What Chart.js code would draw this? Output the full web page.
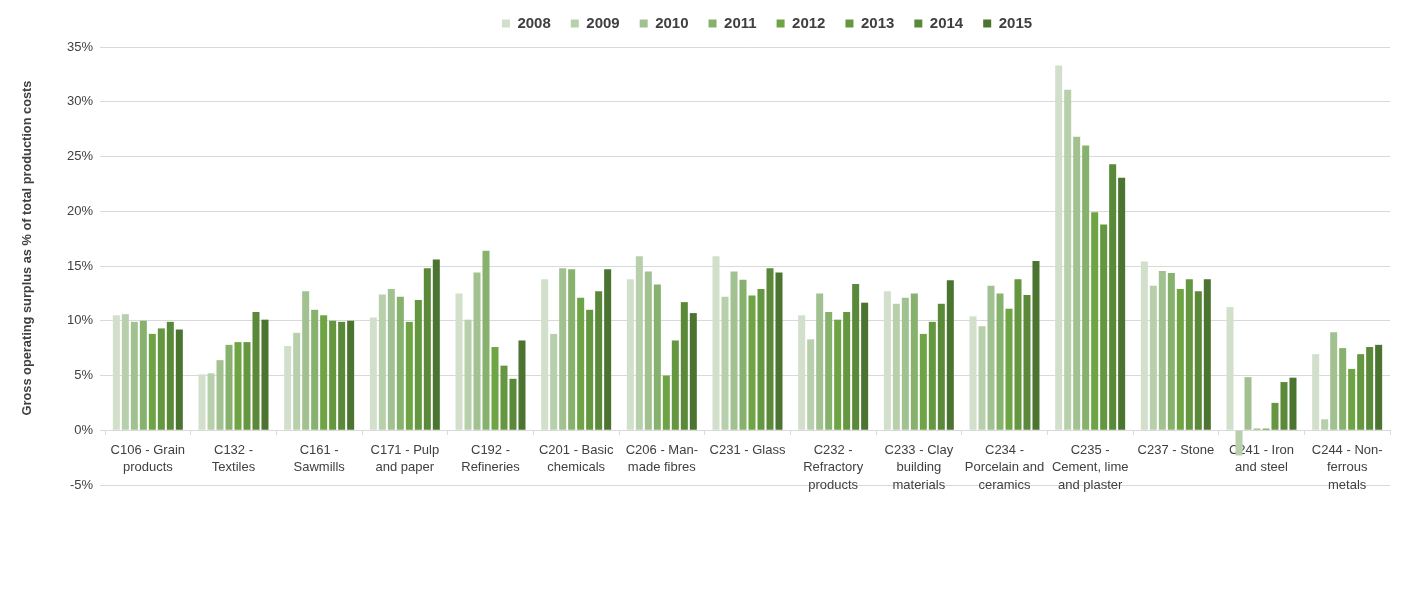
<!DOCTYPE html>
<html><head><meta charset="utf-8">
<script src="https://cdn.jsdelivr.net/npm/chart.js@4.4.1/dist/chart.umd.min.js"></script>
<style>html,body{margin:0;padding:0;background:#fff}#wrap{width:1405px;height:616px;position:relative}canvas{display:block}</style>
</head><body><div id="wrap"><canvas id="c" width="1405" height="616" style="width:1405px;height:616px"></canvas></div>
<script>
const categories = [
  ['C106 - Grain','products'],
  ['C132 -','Textiles'],
  ['C161 -','Sawmills'],
  ['C171 - Pulp','and paper'],
  ['C192 -','Refineries'],
  ['C201 - Basic','chemicals'],
  ['C206 - Man-','made fibres'],
  ['C231 - Glass'],
  ['C232 -','Refractory','products'],
  ['C233 - Clay','building','materials'],
  ['C234 -','Porcelain and','ceramics'],
  ['C235 -','Cement, lime','and plaster'],
  ['C237 - Stone'],
  ['C241 - Iron','and steel'],
  ['C244 - Non-','ferrous','metals']
];
const years = ['2008','2009','2010','2011','2012','2013','2014','2015'];
const v2008 = [10.5, 5.1, 7.7, 10.3, 12.5, 13.8, 13.8, 15.9, 10.5, 12.7, 10.4, 33.3, 15.4, 11.25, 6.95];
const v2009 = [10.6, 5.2, 8.9, 12.4, 10.1, 8.8, 15.9, 12.2, 8.3, 11.55, 9.5, 31.1, 13.2, -2.3, 1.0];
const v2010 = [9.9, 6.4, 12.7, 12.9, 14.4, 14.8, 14.5, 14.5, 12.5, 12.1, 13.2, 26.8, 14.55, 4.85, 8.95];
const v2011 = [10.0, 7.8, 11.0, 12.2, 16.4, 14.7, 13.3, 13.75, 10.8, 12.5, 12.5, 26.0, 14.35, 0.15, 7.5];
const v2012 = [8.8, 8.05, 10.5, 9.9, 7.6, 12.1, 5.0, 12.3, 10.1, 8.8, 11.1, 19.9, 12.9, 0.15, 5.6];
const v2013 = [9.3, 8.05, 10.0, 11.9, 5.9, 11.0, 8.2, 12.9, 10.8, 9.9, 13.8, 18.8, 13.8, 2.5, 6.95];
const v2014 = [9.9, 10.8, 9.9, 14.8, 4.7, 12.7, 11.7, 14.8, 13.35, 11.55, 12.35, 24.3, 12.7, 4.4, 7.6];
const v2015 = [9.2, 10.1, 10.0, 15.6, 8.2, 14.7, 10.7, 14.4, 11.65, 13.7, 15.45, 23.05, 13.8, 4.8, 7.8];
const seriesValues = [v2008, v2009, v2010, v2011, v2012, v2013, v2014, v2015];
const colors = ['#d2dfcb','#b8cfac','#a2c191','#87b26e','#6ea443','#64973f','#5a8a39','#4b7431'];
const yTickMin = -5, yTickMax = 35, yTickStep = 5;
const yTitle = 'Gross operating surplus as % of total production costs';

const textColor = '#404040';
const gridColor = '#d9d9d9';

const shiftPlugin = {
  id: 'shiftLegend',
  afterLayout(chart) {
    const lg = chart.legend;
    if (!lg) return;
    lg.left += 72; lg.right += 72;
    lg.top -= 6; lg.bottom -= 6;
  }
};

const yTitlePlugin = {
  id: 'yTitle',
  afterDraw(chart) {
    const ctx = chart.ctx;
    ctx.save();
    ctx.translate(27, 248);
    ctx.rotate(-Math.PI / 2);
    ctx.fillStyle = textColor;
    ctx.font = 'bold 12.8px "Liberation Sans"';
    ctx.textAlign = 'center';
    ctx.textBaseline = 'middle';
    ctx.fillText(yTitle, 0, 0);
    ctx.restore();
  }
};

new Chart(document.getElementById('c'), {
  type: 'bar',
  data: {
    labels: categories,
    datasets: years.map((y, i) => ({
      label: y,
      data: seriesValues[i],
      backgroundColor: colors[i],
      borderWidth: 0,
      categoryPercentage: 0.84,
      barPercentage: 0.78
    }))
  },
  options: {
    responsive: false,
    animation: false,
    devicePixelRatio: 1,
    layout: { padding: { left: 0, right: 15, top: 2, bottom: 131 } },
    plugins: {
      legend: {
        position: 'top',
        labels: {
          boxWidth: 8, boxHeight: 8, padding: 20,
          color: textColor,
          font: { family: 'Liberation Sans', size: 15, weight: 'bold' }
        }
      },
      tooltip: { enabled: false }
    },
    scales: {
      x: {
        position: { y: 0 },
        grid: { offset: true, drawOnChartArea: false, drawTicks: true, tickLength: 5, color: gridColor },
        border: { display: false },
        ticks: {
          color: textColor, padding: 6, maxRotation: 0, autoSkip: false,
          font: { family: 'Liberation Sans', size: 13, lineHeight: 1.35 }
        }
      },
      y: {
        min: yTickMin, max: yTickMax,
        afterFit(scale) { scale.width = 105; },
        grid: { color: gridColor, tickLength: 5 },
        border: { display: false },
        ticks: {
          stepSize: yTickStep, padding: 7, color: textColor,
          font: { family: 'Liberation Sans', size: 13 },
          callback: v => v + '%'
        },
        title: { display: false }
      }
    }
  },
  plugins: [shiftPlugin, yTitlePlugin]
});
</script></body></html>
